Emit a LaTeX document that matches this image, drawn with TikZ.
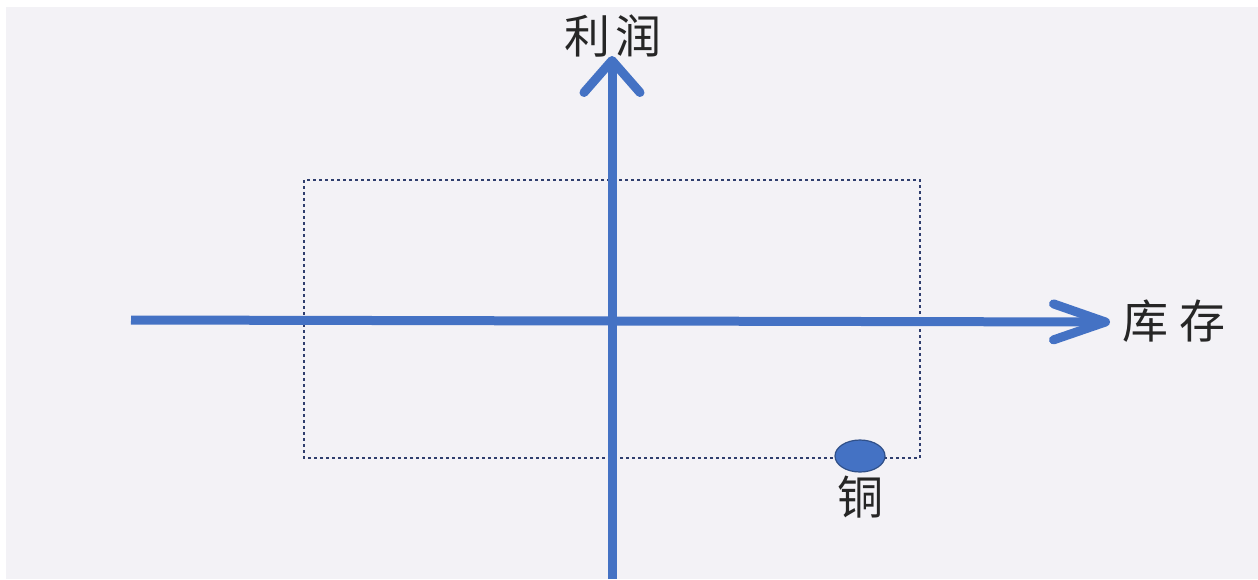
\documentclass[tikz,border=0pt]{standalone}
\usepackage{fontspec}
\newfontfamily\cjk{Noto Sans CJK SC}
\usetikzlibrary{arrows.meta,shapes.geometric}
\definecolor{axisblue}{RGB}{68,114,196}
\definecolor{dotblue}{RGB}{47,62,110}
\definecolor{bggray}{RGB}{243,242,246}
\tikzset{
  axis/.style={draw=axisblue, line width=4.5pt},
  lbl/.style={font=\cjk\fontsize{23}{26}\selectfont, text=black!85, inner sep=0pt},
  box/.style={draw=dotblue, line width=1pt, dash pattern=on 1.5pt off 1.5pt},
  dot/.style={ellipse, fill=axisblue, draw=axisblue!70!black, line width=0.6pt, minimum width=25pt, minimum height=16pt, inner sep=0pt}
}
\begin{document}
\begin{tikzpicture}[x=0.5pt,y=-0.5pt]
\useasboundingbox (0,0) rectangle (1258,579);
\fill[white] (0,0) rectangle (1258,579);
\fill[bggray] (6,7) rectangle (1258,579);
\draw[box] (304,180) rectangle (920,458);
\coordinate (vb) at (612,579);
\coordinate (vt) at (612,56);
\coordinate (hl) at (131,320);
\coordinate (hr) at (1110,322);
\draw[axis, -{Straight Barb[length=26pt,width=18pt,round]}] (hl) -- (hr);
\draw[axis, -{Straight Barb[length=16pt,width=28pt,round]}] (vb) -- (vt);
\node[lbl] (profit) at (613,36) {利\hspace{3pt}润};
\node[lbl] (stock) at (1174,321) {库\hspace{6pt}存};
\node[dot] (cu) at (860,456) {};
\node[lbl] (cul) at (860,497) {铜};
\end{tikzpicture}
\end{document}
